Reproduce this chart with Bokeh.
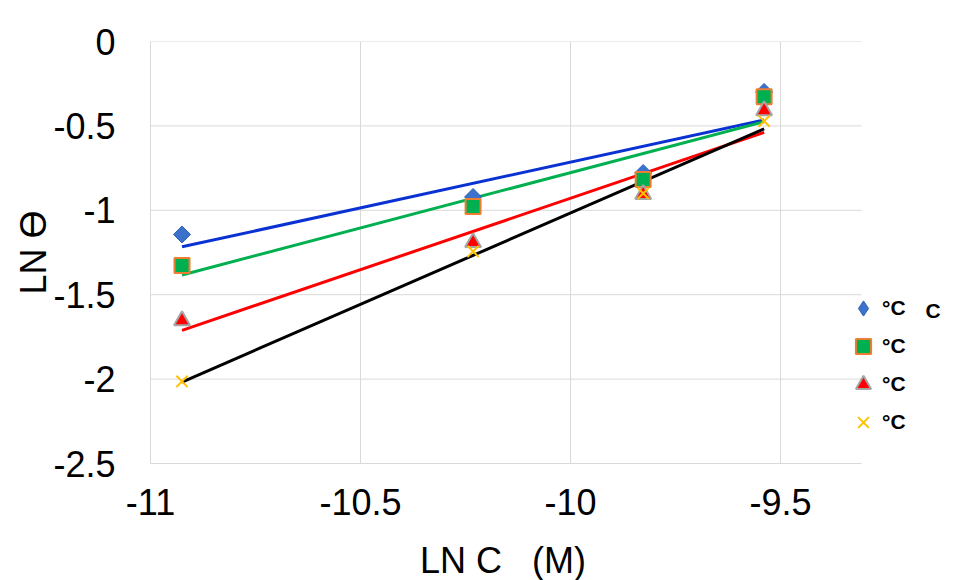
import numpy as np
from bokeh.plotting import figure
from bokeh.models import FixedTicker, Legend, LegendItem, Label
from bokeh.embed import file_html
from bokeh.resources import INLINE

# ---- data ----
ln_c = [-10.925, -10.232, -9.827, -9.539]
s1 = [-1.143, -0.921, -0.779, -0.299]
s2 = [-1.327, -0.977, -0.818, -0.328]
s3 = [-1.653, -1.190, -0.905, -0.409]
s4 = [-2.014, -1.244, -0.900, -0.472]
legend_labels = ["°C", "°C", "°C", "°C"]
x_ticks = [-11, -10.5, -10, -9.5]
x_tick_labels = ["-11", "-10.5", "-10", "-9.5"]
y_ticks = [0, -0.5, -1, -1.5, -2, -2.5]
y_tick_labels = ["0", "-0.5", "-1", "-1.5", "-2", "-2.5"]

X_START, X_PLOT_END = -11, -9.307   # plotted area of the chart
FONT = "Liberation Sans"

p = figure(frame_width=795, frame_height=422,
           min_border_left=150, min_border_right=5,
           min_border_top=41, min_border_bottom=115,
           x_range=(X_START, X_START + 795 / 420), y_range=(-2.5, 0),
           output_backend="svg", toolbar_location=None)
p.outline_line_color = None
p.background_fill_color = "white"
p.border_fill_color = "white"

for ax, ticks, labels in ((p.xaxis[0], x_ticks, x_tick_labels), (p.yaxis[0], y_ticks, y_tick_labels)):
    ax.ticker = FixedTicker(ticks=ticks)
    ax.major_label_overrides = {t: l for t, l in zip(ticks, labels)}
    ax.axis_line_color = "#d9d9d9"
    ax.axis_line_width = 1
    ax.major_tick_line_color = None
    ax.minor_tick_line_color = None
    ax.major_label_text_font = FONT
    ax.major_label_text_font_size = "36px"
    ax.major_label_text_color = "black"
    ax.axis_label_text_font = FONT
    ax.axis_label_text_font_size = "36px"
    ax.axis_label_text_font_style = "normal"
    ax.axis_label_text_color = "black"

p.xaxis.bounds = (X_START, X_PLOT_END)
# trailing no-break spaces keep the title centred under the plotted area
p.xaxis.axis_label = "LN C\u00a0\u00a0\u00a0(M)" + "\u00a0" * 9
p.yaxis.axis_label = "LN \u04e8"
p.xaxis.major_label_standoff = 19
p.yaxis.major_label_standoff = 29
p.xaxis.axis_label_standoff = 22
p.yaxis.axis_label_standoff = -4

p.xgrid.ticker = FixedTicker(ticks=x_ticks)
p.xgrid.grid_line_color = "#d9d9d9"
p.xgrid.grid_line_width = 1
p.ygrid.visible = False

# horizontal gridlines limited to the plotted area
p.segment(x0=[X_START] * len(y_ticks), y0=y_ticks,
          x1=[X_PLOT_END] * len(y_ticks), y1=y_ticks,
          line_color="#d9d9d9", line_width=1)

series = [s1, s2, s3, s4]
line_colors = ["#0a32d2", "#00b050", "#ff0000", "#000000"]

# trendlines (least squares fit of each series)
for ys, lc in zip(series, line_colors):
    m, b = np.polyfit(ln_c, ys, 1)
    xe = [ln_c[0], ln_c[-1]]
    p.line(xe, [m * xe[0] + b, m * xe[1] + b], line_color=lc, line_width=3)

# diamond glyph used for the legend entry (hidden under the rotated squares)
r1_leg = p.scatter(ln_c, s1, marker="diamond", size=12,
                   fill_color="#3a72cc", line_color="#2f62b5", line_width=1)
r1 = p.scatter(ln_c, s1, marker="square", size=12, angle=np.pi / 4,
               fill_color="#3a72cc", line_color="#2f62b5", line_width=1)
r2 = p.scatter(ln_c, s2, marker="square", size=15,
               fill_color="#00b050", line_color="#ed7d31", line_width=2)
r3 = p.scatter(ln_c, s3, marker="triangle", size=16,
               fill_color="#ff0000", line_color="#a5a5a5", line_width=2)
r4 = p.scatter(ln_c, s4, marker="x", size=16,
               line_color="#ffc000", line_width=2)

items = [LegendItem(label=lab, renderers=[r]) for lab, r in zip(legend_labels, [r1_leg, r2, r3, r4])]
legend = Legend(items=items, location=(694, 22), orientation="vertical",
                glyph_width=38, glyph_height=38, spacing=0, padding=0, margin=0,
                label_standoff=-5, label_height=38,
                label_text_font=FONT, label_text_font_style="bold",
                label_text_font_size="21px", label_text_color="black",
                border_line_color=None, background_fill_alpha=0)
p.add_layout(legend, "center")

p.add_layout(Label(x=-9.155, y=-1.594, text="C", text_font=FONT,
                   text_font_style="bold", text_font_size="21px",
                   text_baseline="middle", text_align="left", text_color="black"))

open("out.html", "w").write(file_html(p, INLINE))
